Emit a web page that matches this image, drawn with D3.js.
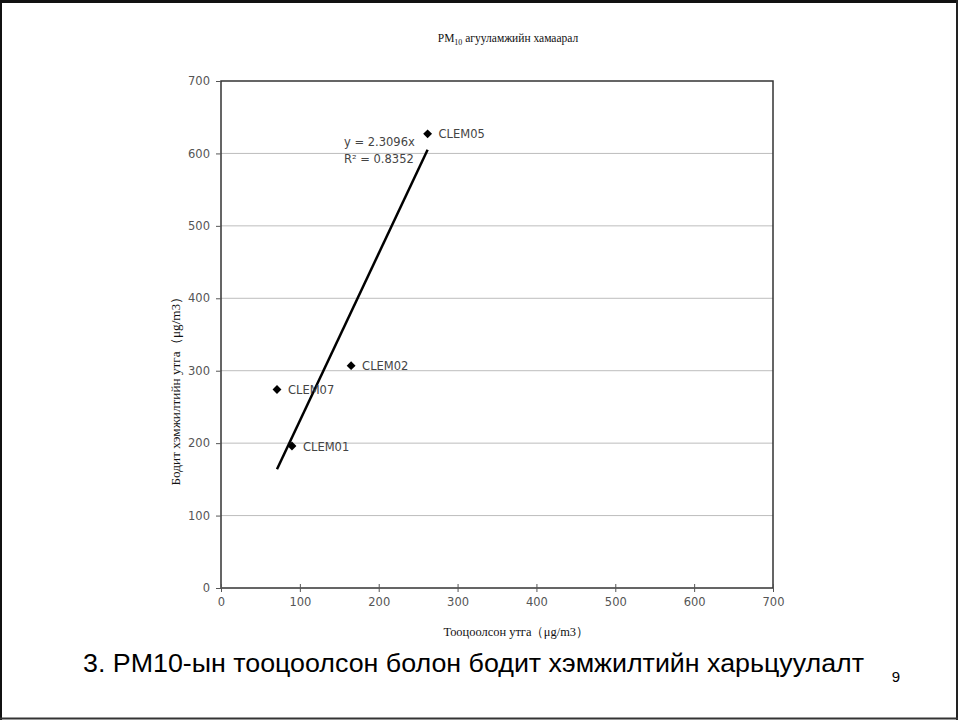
<!DOCTYPE html>
<html><head><meta charset="utf-8">
<script src="https://cdn.jsdelivr.net/npm/d3@7"></script>
<style>body{margin:0;background:#fff}svg{display:block}</style>
</head><body>
<svg id="c" width="958" height="720"></svg>
<script>
const stations = ["CLEM05","CLEM02","CLEM07","CLEM01"];
const calculated = [262, 165, 71, 90];
const measured = [627, 307, 274, 196];
const slope = 2.3096;
const equationText = ["y = 2.3096x", "R² = 0.8352"];
const xTicks = [0,100,200,300,400,500,600,700];
const yTicks = [0,100,200,300,400,500,600,700];

const svg = d3.select("#c");
// slide border
svg.append("line").attr("x1",0).attr("x2",958).attr("y1",1.5).attr("y2",1.5).attr("stroke","#111").attr("stroke-width",3);
svg.append("line").attr("x1",1).attr("x2",1).attr("y1",0).attr("y2",720).attr("stroke","#111").attr("stroke-width",2);
svg.append("line").attr("x1",957).attr("x2",957).attr("y1",0).attr("y2",720).attr("stroke","#222").attr("stroke-width",2);
svg.append("line").attr("x1",0).attr("x2",958).attr("y1",718.5).attr("y2",718.5).attr("stroke","#333").attr("stroke-width",2);

const L=221,R=773,T=81,B=588;
const x = d3.scaleLinear().domain([0,700]).range([L,R]);
const y = d3.scaleLinear().domain([0,700]).range([B,T]);
const tickFont = "'DejaVu Sans', sans-serif";

// gridlines
svg.append("g").selectAll("line").data(yTicks.slice(1,-1)).join("line")
  .attr("x1",L).attr("x2",R).attr("y1",d=>y(d)).attr("y2",d=>y(d))
  .attr("stroke","#bdbdbd").attr("stroke-width",1);

// frame
svg.append("rect").attr("x",L).attr("y",T).attr("width",R-L).attr("height",B-T)
  .attr("fill","none").attr("stroke","#333").attr("stroke-width",1.5);

// y axis
const yAx = svg.append("g").attr("transform",`translate(${L},0)`)
  .call(d3.axisLeft(y).tickValues(yTicks).tickSize(5).tickPadding(6));
yAx.select(".domain").remove();
yAx.selectAll("line").attr("stroke","#555");
yAx.selectAll("text").attr("font-family",tickFont).attr("font-size",11.5).attr("fill","#555");

// x axis
const xAx = svg.append("g").attr("transform",`translate(0,${B})`)
  .call(d3.axisBottom(x).tickValues(xTicks).tickSize(4).tickPadding(6));
xAx.select(".domain").remove();
xAx.selectAll("line").attr("stroke","#555").attr("y1",-4);
xAx.selectAll("text").attr("font-family",tickFont).attr("font-size",11.5).attr("fill","#555");

// trend line
const xs = d3.extent(calculated);
svg.append("line").attr("x1",x(xs[0])).attr("y1",y(slope*xs[0]))
  .attr("x2",x(xs[1])).attr("y2",y(slope*xs[1]))
  .attr("stroke","#000").attr("stroke-width",2.5);

// points
const diamond = d3.symbol().type(d3.symbolDiamond2).size(50);
svg.append("g").selectAll("path").data(stations).join("path")
  .attr("d",diamond)
  .attr("transform",(d,i)=>`translate(${x(calculated[i])},${y(measured[i])})`)
  .attr("fill","#000");
svg.append("g").selectAll("text").data(stations).join("text")
  .attr("x",(d,i)=>x(calculated[i])+11).attr("y",(d,i)=>y(measured[i])+4.5)
  .attr("font-family",tickFont).attr("font-size",11.5).attr("fill","#444")
  .text(d=>d);

// equation
svg.append("g").selectAll("text").data(equationText).join("text")
  .attr("x",344).attr("y",(d,i)=>146+i*17)
  .attr("font-family",tickFont).attr("font-size",11.5).attr("fill","#444")
  .text(d=>d);

// title
const t = svg.append("text").attr("x",508).attr("y",42).attr("text-anchor","middle")
  .attr("font-family","'Liberation Serif', serif").attr("font-size",11.5).attr("fill","#111");
t.append("tspan").text("PM");
t.append("tspan").attr("font-size",8).attr("dy",3).text("10");
t.append("tspan").attr("dy",-3).text(" агууламжийн  хамаарал");

// axis titles
svg.append("text").attr("x",516).attr("y",636).attr("text-anchor","middle")
  .attr("font-family","'Liberation Serif', serif").attr("font-size",13).attr("fill","#111")
  .attr("textLength",145).attr("lengthAdjust","spacingAndGlyphs")
  .text("Тооцоолсон утга（μg/m3）");
svg.append("text").attr("transform","translate(180,388) rotate(-90)").attr("text-anchor","middle")
  .attr("font-family","'Liberation Serif', serif").attr("font-size",13).attr("fill","#111")
  .attr("textLength",195).attr("lengthAdjust","spacingAndGlyphs")
  .text("Бодит хэмжилтийн утга（μg/m3）");

// caption
svg.append("text").attr("x",83).attr("y",672)
  .attr("font-family","'Liberation Sans', Arial, sans-serif").attr("font-size",26).attr("fill","#000")
  .attr("textLength",781).attr("lengthAdjust","spacingAndGlyphs")
  .text("3. PM10-ын тооцоолсон болон бодит хэмжилтийн харьцуулалт");
svg.append("text").attr("x",896).attr("y",682).attr("text-anchor","middle")
  .attr("font-family","'Liberation Sans', Arial, sans-serif").attr("font-size",15).attr("fill","#000")
  .text("9");
</script>
</body></html>
